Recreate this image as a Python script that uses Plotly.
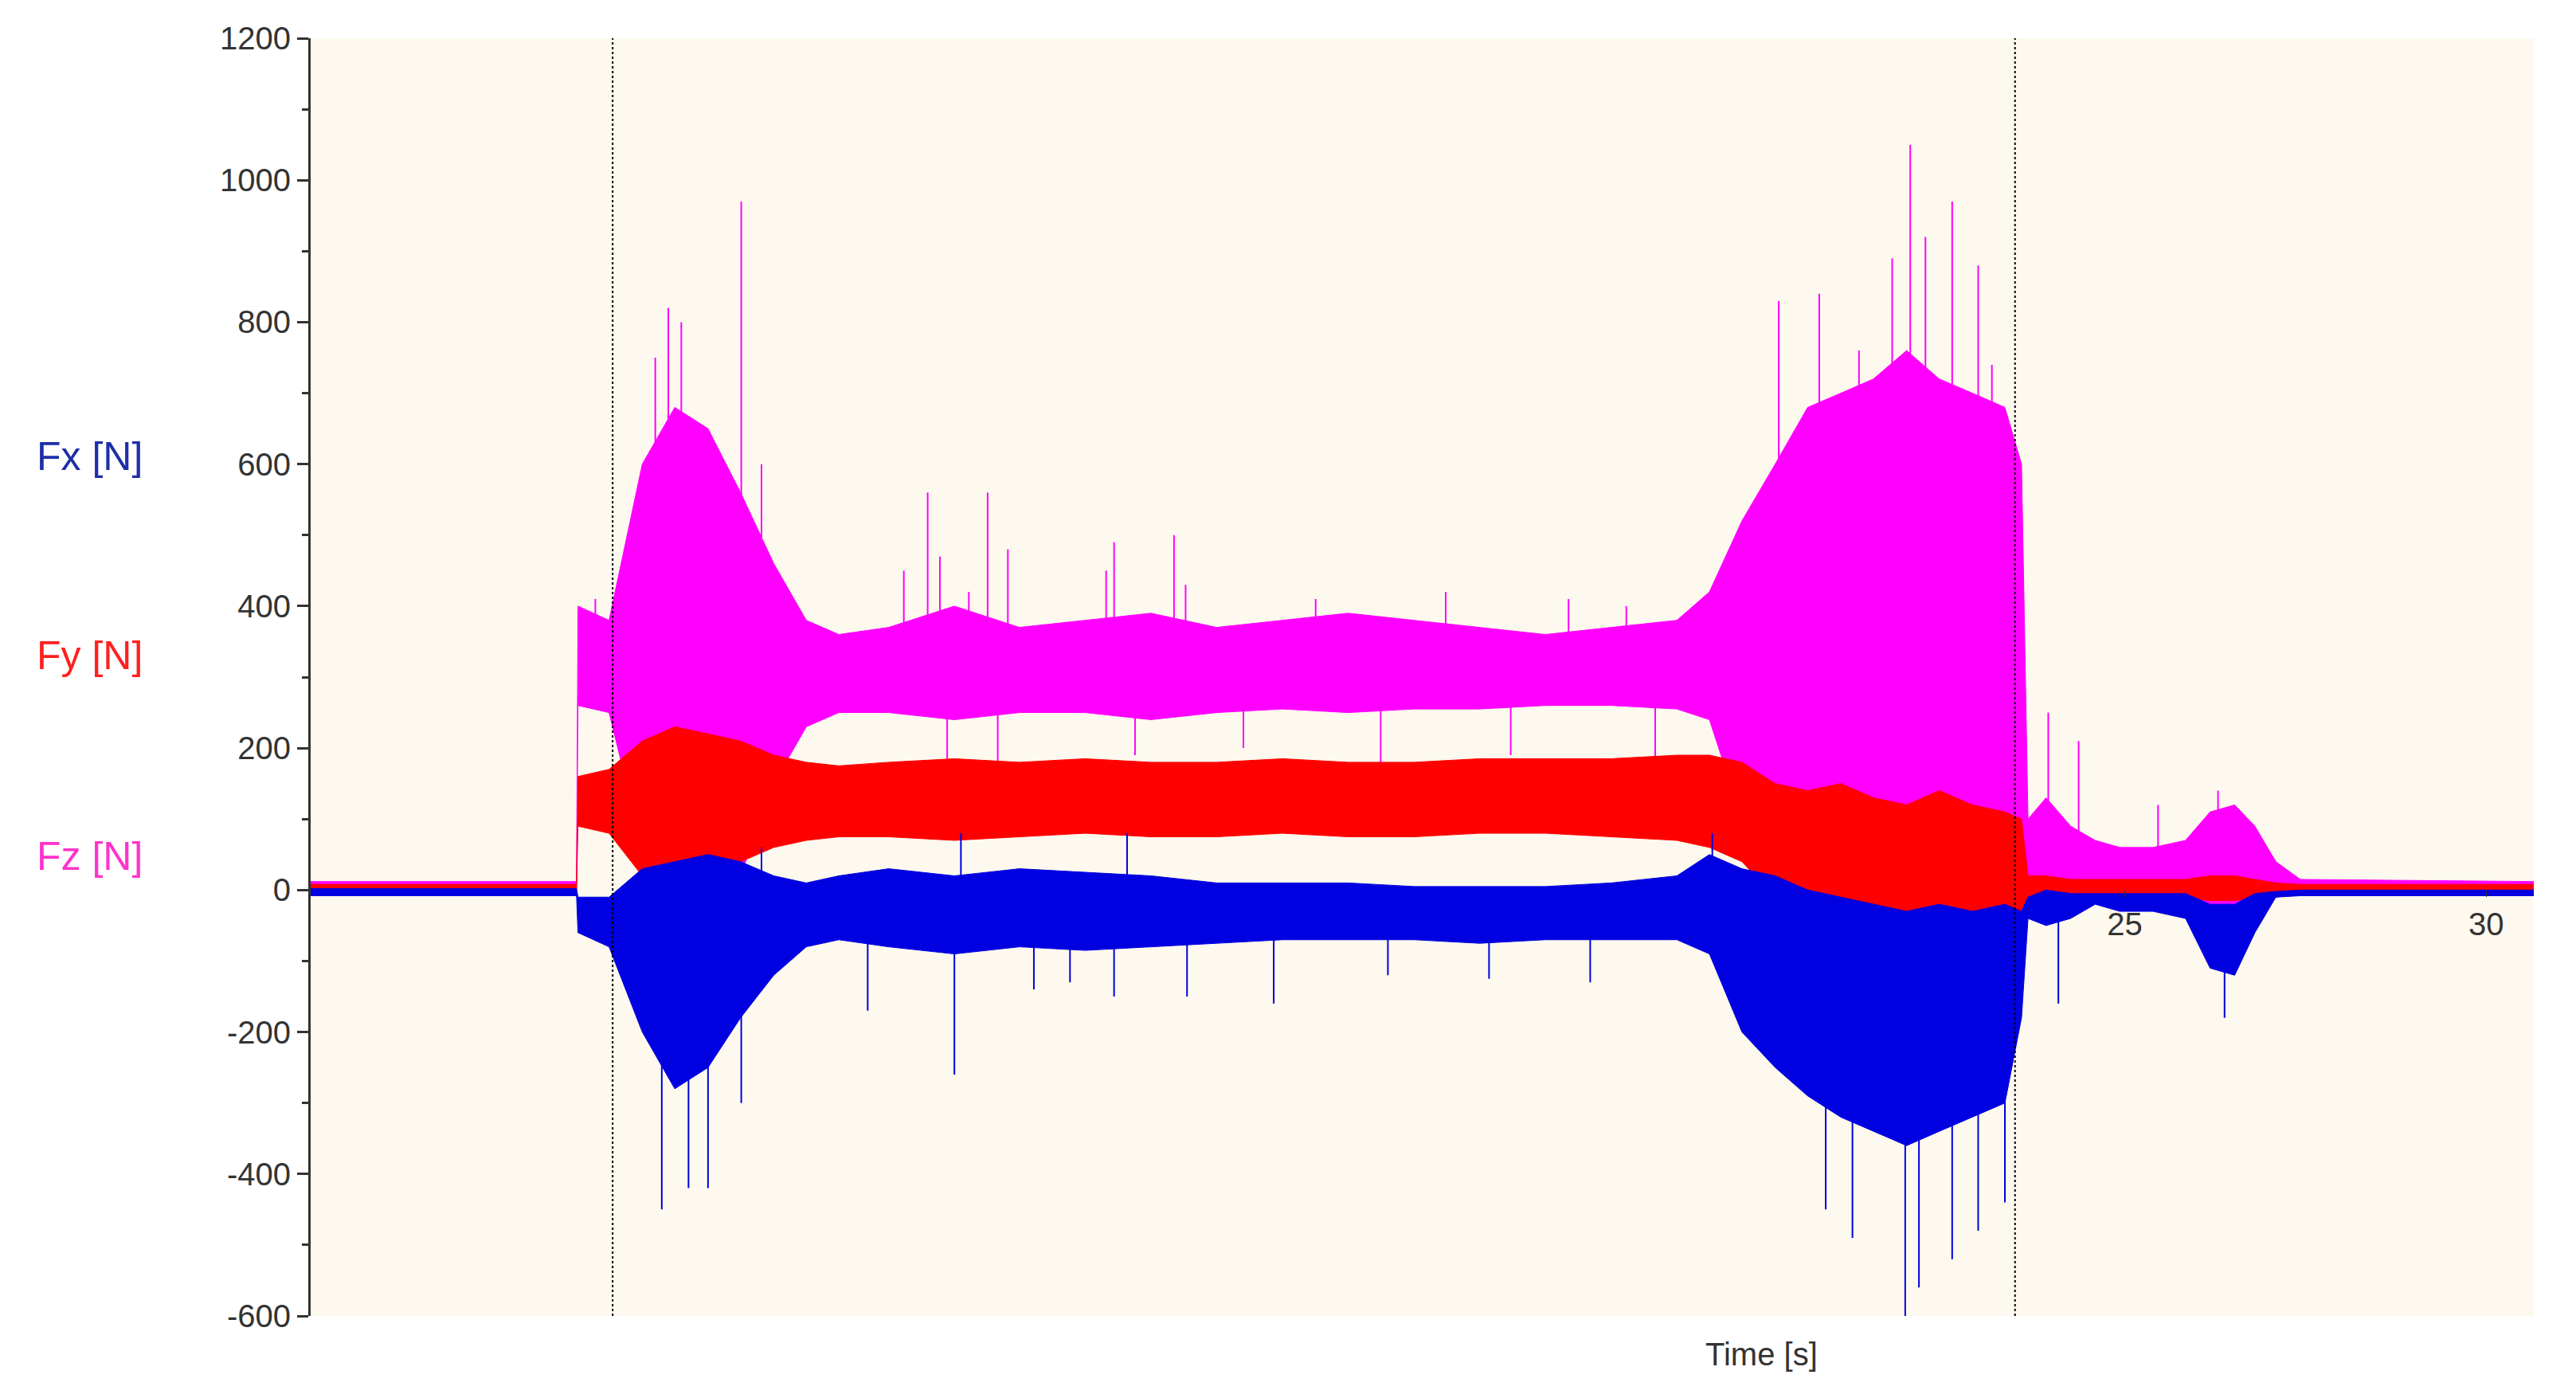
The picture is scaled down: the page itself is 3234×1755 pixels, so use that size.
import plotly.graph_objects as go

# envelope time grid [s]
t_env = [-0.11, 3.57, 3.59, 4.02, 4.48, 4.93, 5.39, 5.84, 6.30, 6.75, 7.20, 7.89, 8.80, 9.70,
         10.61, 11.52, 12.43, 13.34, 14.25, 15.16, 16.07, 16.98, 17.89, 18.80, 19.25, 19.70,
         20.16, 20.61, 21.07, 21.52, 21.98, 22.43, 22.89, 23.34, 23.57, 23.66, 23.91, 24.25,
         24.59, 24.93, 25.39, 25.84, 26.18, 26.52, 26.80, 27.09, 27.43, 30.66]

fz_hi = [12, 12, 400, 380, 600, 680, 650, 560, 460, 380, 360, 370, 400, 370, 380, 390, 370, 380,
         390, 380, 370, 360, 370, 380, 420, 520, 600, 680, 700, 720, 760, 720, 700, 680, 600, 100,
         130, 90, 70, 60, 60, 70, 110, 120, 90, 40, 15, 12]
fz_lo = [0, 0, 260, 250, 60, 10, -10, 20, 150, 230, 250, 250, 240, 250, 250, 240, 250, 255, 250,
         255, 255, 260, 260, 255, 240, 100, 0, -40, -50, -60, -60, -70, -60, -60, -60, -20, -30,
         -30, -10, -10, -20, -20, -50, -50, -20, -5, 0, 0]

fy_hi = [8, 8, 160, 170, 210, 230, 220, 210, 190, 180, 175, 180, 185, 180, 185, 180, 180, 185,
         180, 180, 185, 185, 185, 190, 190, 180, 150, 140, 150, 130, 120, 140, 120, 110, 100, 20,
         20, 15, 15, 15, 15, 15, 20, 20, 15, 10, 8, 8]
fy_lo = [0, 0, 90, 80, 20, 0, 20, 40, 60, 70, 75, 75, 70, 75, 80, 75, 75, 80, 75, 75, 80, 80, 75,
         70, 60, 40, -10, -40, -50, -60, -60, -70, -60, -60, -50, -20, -15, -15, -10, -10, -10,
         -10, -15, -15, -10, -10, -5, -5]

fx_hi = [2, 2, -10, -10, 30, 40, 50, 40, 20, 10, 20, 30, 20, 30, 25, 20, 10, 10, 10, 5, 5, 5, 10,
         20, 50, 30, 20, 0, -10, -20, -30, -20, -30, -20, -30, -10, 0, -5, -5, -5, -5, -5, -20,
         -20, -5, -2, 0, 0]
fx_lo = [-8, -8, -60, -80, -200, -280, -250, -180, -120, -80, -70, -80, -90, -80, -85, -80, -75,
         -70, -70, -70, -75, -70, -70, -70, -90, -200, -250, -290, -320, -340, -360, -340, -320,
         -300, -180, -40, -50, -40, -20, -30, -30, -40, -110, -120, -60, -10, -8, -8]

# individual spikes: time, start, tip
fz_spk_t = [3.83, 4.66, 4.84, 5.02, 5.21, 5.85, 6.13, 8.43, 9.26, 9.54, 11.01, 11.84, 18.10,
            20.21, 20.77, 21.32, 21.78, 22.03, 22.24, 22.61, 22.97, 23.16, 23.94, 24.36, 25.46,
            26.29, 8.10, 8.60, 9.00, 10.90, 12.00, 13.80, 15.60, 17.30, 8.70, 9.40, 11.30, 12.80,
            14.70, 16.50, 18.50]
fz_spk_b = [300] * 22 + [0, 0, 0, 0] + [300] * 8 + [280] * 7
fz_spk_v = [410, 750, 820, 800, 650, 970, 600, 560, 560, 480, 490, 500, 400, 830, 840, 760,
            890, 1050, 920, 970, 880, 740, 250, 210, 120, 140, 450, 470, 420, 450, 430, 410,
            420, 410, 180, 160, 190, 200, 170, 190, 180]

fx_spk_t = [4.75, 5.12, 5.39, 5.85, 8.80, 11.01, 12.02, 13.22, 20.86, 21.23, 21.96, 22.15,
            22.61, 22.97, 23.34, 24.08, 26.38, 6.13, 8.89, 11.19, 19.29, 7.60, 9.90, 10.40,
            14.80, 16.20, 17.60]
fx_spk_b = [-30] * 17 + [0, 0, 0, 0] + [-30] * 6
fx_spk_v = [-450, -420, -420, -300, -260, -150, -150, -160, -450, -490, -600, -560, -520, -480,
            -440, -160, -180, 60, 80, 80, 80, -170, -140, -130, -120, -125, -130]

markers_t = [4.07, 23.48]

y_ticks = [-600, -400, -200, 0, 200, 400, 600, 800, 1000, 1200]

fig = go.Figure()


def band(hi, lo, color):
    fig.add_trace(go.Scatter(x=t_env, y=hi, mode="lines", line=dict(color=color, width=1),
                             hoverinfo="skip"))
    fig.add_trace(go.Scatter(x=t_env, y=lo, mode="lines", line=dict(color=color, width=1),
                             fill="tonexty", fillcolor=color, hoverinfo="skip"))


def spikes(ts, bs, vs, color):
    xs, ys = [], []
    for t, b, v in zip(ts, bs, vs):
        xs += [t, t, None]
        ys += [b, v, None]
    fig.add_trace(go.Scatter(x=xs, y=ys, mode="lines", line=dict(color=color, width=2),
                             hoverinfo="skip"))


band(fz_hi, fz_lo, "#FF00FF")
spikes(fz_spk_t, fz_spk_b, fz_spk_v, "#FF00FF")
band(fy_hi, fy_lo, "#FF0000")
band(fx_hi, fx_lo, "#0000E0")
spikes(fx_spk_t, fx_spk_b, fx_spk_v, "#0000E0")

for t in markers_t:
    fig.add_shape(type="line", x0=t, x1=t, y0=-600, y1=1200, xref="x", yref="y",
                  line=dict(color="black", width=2, dash="dot"))

fig.update_layout(
    width=3234, height=1755, showlegend=False,
    margin=dict(l=382, r=61, t=40, b=111),
    paper_bgcolor="white", plot_bgcolor="#FDF9EE",
    font=dict(family="Liberation Sans Narrow, Liberation Sans, Arial", size=40, color="#333"),
    xaxis=dict(range=[-0.11, 30.66], tickvals=[25, 30], showgrid=False, zeroline=False,
               showline=False, anchor="free", position=600 / 1800, ticks="outside",
               ticklen=8, tickcolor="#333"),
    yaxis=dict(range=[-600, 1200], tickvals=y_ticks, ticktext=[str(v) for v in y_ticks],
               showgrid=False, zeroline=False,
               showline=True, linecolor="#333", linewidth=3, ticks="outside", ticklen=14,
               tickwidth=3, tickcolor="#333",
               minor=dict(dtick=100, ticks="outside", ticklen=8, tickcolor="#333")),
)

labels = [("Fx [N]", "#1F2FA8", 0.673), ("Fy [N]", "#FF2020", 0.517), ("Fz [N]", "#FF33CC", 0.36)]
for txt, col, yy in labels:
    fig.add_annotation(text=txt, x=-0.124, y=yy, xref="paper", yref="paper", showarrow=False,
                       xanchor="left", yanchor="middle", font=dict(size=50, color=col))
fig.add_annotation(text="Time [s]", x=(2276 - 382) / (3234 - 382 - 61), y=-0.015,
                   xref="paper", yref="paper", yanchor="top", showarrow=False,
                   font=dict(size=40, color="#333"))

fig.write_html("out.html")
